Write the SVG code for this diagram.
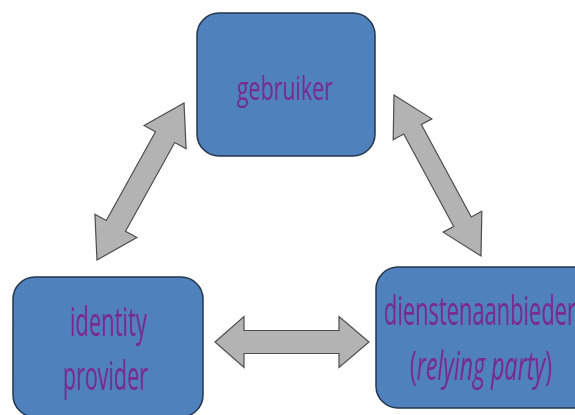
<svg xmlns="http://www.w3.org/2000/svg" width="575" height="415" viewBox="0 0 575 415">
<style>
.box{fill:#4f81bd;stroke:#26364d;stroke-width:1.5}
.lbl{font-family:"Open Sans","Liberation Sans",sans-serif;fill:#7a2a90}
.arr{fill:#b3b3b3;stroke:#4d4d4d;stroke-width:1.2;stroke-linejoin:miter}
</style>
<rect width="575" height="415" fill="#ffffff"/>
<g id="connectors">
<polygon class="arr" transform="translate(292,342)" points="-77,0 -48,-25.5 -48,-11.5 47,-11.5 47,-25.5 77,0 47,25.5 47,11.5 -48,11.5 -48,25.5"/>
<polygon class="arr" transform="translate(140.5,181.5) rotate(119)" points="-89.75,0 -50.75,-24 -50.75,-11 50.75,-11 50.75,-24 89.75,0 50.75,24 50.75,11 -50.75,11 -50.75,24"/>
<polygon class="arr" transform="translate(437.5,175.5) rotate(61.6)" points="-91.5,0 -52.5,-22 -52.5,-10 52.5,-10 52.5,-22 91.5,0 52.5,22 52.5,10 -52.5,10 -52.5,22"/>
</g>
<g id="gebruiker">
<rect class="box" x="197" y="13" width="178" height="143" rx="22"/>
<text class="lbl" x="285" y="100" font-size="33" text-anchor="middle" textLength="96" lengthAdjust="spacingAndGlyphs">gebruiker</text>
</g>
<g id="identity-provider">
<rect class="box" x="13" y="277" width="190" height="140" rx="22"/>
<text class="lbl" x="108.5" y="336" font-size="40" text-anchor="middle" textLength="77" lengthAdjust="spacingAndGlyphs">identity</text>
<text class="lbl" x="105.5" y="390" font-size="40" text-anchor="middle" textLength="85" lengthAdjust="spacingAndGlyphs">provider</text>
</g>
<g id="dienstenaanbieder">
<rect class="box" x="376" y="267" width="230" height="141" rx="22"/>
<text class="lbl" x="384" y="325" font-size="40" textLength="192" lengthAdjust="spacingAndGlyphs">dienstenaanbieder</text>
<text class="lbl" x="410" y="380" font-size="40" textLength="142" lengthAdjust="spacingAndGlyphs">(<tspan font-style="italic">relying party</tspan>)</text>
</g>
</svg>
